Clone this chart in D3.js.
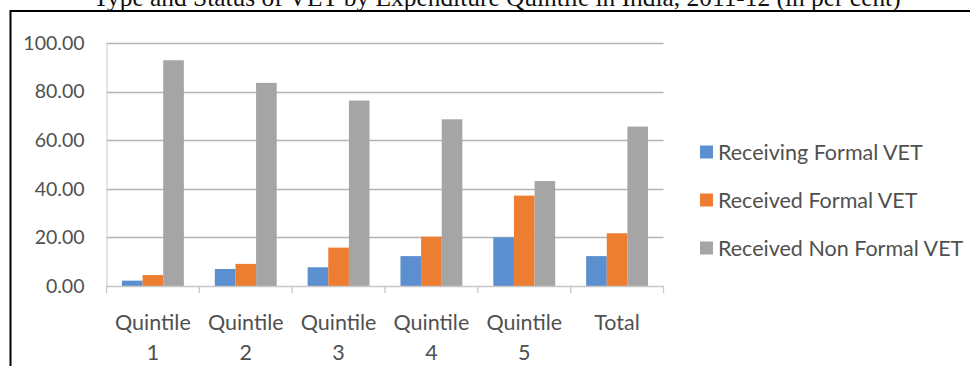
<!DOCTYPE html>
<html>
<head>
<meta charset="utf-8">
<script src="https://cdn.jsdelivr.net/npm/d3@7"></script>
<style>
  html, body { margin: 0; padding: 0; background: #ffffff; }
  svg { display: block; }
</style>
</head>
<body>
<svg id="chart" width="970" height="366"></svg>
<script>
// Type and status of VET by expenditure quintile, India 2011-12 (per cent)
const categories = [["Quintile", "1"], ["Quintile", "2"], ["Quintile", "3"], ["Quintile", "4"], ["Quintile", "5"], ["Total"]];
const seriesNames = ["Receiving Formal VET", "Received Formal VET", "Received Non Formal VET"];
const receivingFormal = [2.2, 7.0, 7.7, 12.3, 20.0, 12.3];
const receivedFormal = [4.5, 9.1, 15.8, 20.3, 37.2, 21.7];
const receivedNonFormal = [92.9, 83.6, 76.3, 68.6, 43.2, 65.6];
const yTicks = [0, 20, 40, 60, 80, 100];
const colors = ["#5b8fcf", "#ed7d31", "#a5a5a5"];
const titleText = "Type and Status of VET by Expenditure Quintile in India, 2011-12 (in per cent)";

const series = [receivingFormal, receivedFormal, receivedNonFormal];
const svg = d3.select("#chart");
const font = "Lato, 'Open Sans', sans-serif";
const textColor = "#505050";

// Title line running off the top edge
svg.append("text")
  .attr("x", 497).attr("y", 5.5)
  .attr("text-anchor", "middle")
  .attr("font-family", "'Liberation Serif', 'Times New Roman', serif")
  .attr("font-size", 25.4)
  .attr("fill", "#111")
  .text(titleText);

// Frame around the chart
svg.append("line").attr("x1", 10.5).attr("x2", 970).attr("y1", 11).attr("y2", 11)
  .attr("stroke", "#000").attr("stroke-width", 2);
svg.append("line").attr("x1", 10.5).attr("x2", 10.5).attr("y1", 10).attr("y2", 366)
  .attr("stroke", "#000").attr("stroke-width", 2);

const plot = { left: 106.5, right: 663.5, top: 43, bottom: 286 };

const y = d3.scaleLinear().domain([0, 100]).range([plot.bottom, plot.top]);
const x0 = d3.scaleBand().domain(d3.range(categories.length)).range([plot.left, plot.right]).paddingInner(0).paddingOuter(0);
const groupW = x0.bandwidth() * 3 / 4.5;
const x1 = d3.scaleBand().domain(d3.range(series.length)).range([0, groupW]).padding(0);

// Gridlines
svg.append("g").selectAll("line").data(yTicks.filter(t => t > 0)).join("line")
  .attr("x1", plot.left).attr("x2", plot.right)
  .attr("y1", d => Math.round(y(d)) + 0.5).attr("y2", d => Math.round(y(d)) + 0.5)
  .attr("stroke", "#b4b4b4").attr("stroke-width", 1.3);

// Y axis
const yAxis = svg.append("g").attr("transform", `translate(${plot.left},0)`)
  .call(d3.axisLeft(y).tickValues(yTicks).tickSize(0).tickPadding(22).tickFormat(d3.format(".2f")));
yAxis.select(".domain").attr("stroke", "#d0d0d0").attr("stroke-width", 1.2);
yAxis.selectAll("text").attr("font-family", font).attr("font-size", 19.5).attr("fill", textColor);

// Bars
const groups = svg.append("g").selectAll("g").data(categories.map((c, i) => i)).join("g")
  .attr("transform", i => `translate(${x0(i) + (x0.bandwidth() - groupW) / 2},0)`);
groups.selectAll("rect").data(i => series.map((s, k) => ({ k, v: s[i] }))).join("rect")
  .attr("x", d => x1(d.k))
  .attr("width", x1.bandwidth())
  .attr("y", d => y(d.v))
  .attr("height", d => y(0) - y(d.v))
  .attr("fill", d => colors[d.k]);

// X axis with category boundary ticks
const xAxisG = svg.append("g");
xAxisG.append("line").attr("x1", plot.left).attr("x2", plot.right)
  .attr("y1", plot.bottom + 0.5).attr("y2", plot.bottom + 0.5)
  .attr("stroke", "#c8c8c8").attr("stroke-width", 1.3);
xAxisG.selectAll("line.tick").data(d3.range(categories.length + 1)).join("line")
  .attr("class", "tick")
  .attr("x1", i => i < categories.length ? x0(i) : plot.right)
  .attr("x2", i => i < categories.length ? x0(i) : plot.right)
  .attr("y1", plot.bottom).attr("y2", plot.bottom + 7)
  .attr("stroke", "#c8c8c8").attr("stroke-width", 1.3);

const labels = svg.append("g").selectAll("text").data(categories).join("text")
  .attr("x", (c, i) => x0(i) + x0.bandwidth() / 2)
  .attr("y", 330)
  .attr("text-anchor", "middle")
  .attr("font-family", font).attr("font-size", 21.5).attr("fill", textColor);
labels.selectAll("tspan").data(c => c).join("tspan")
  .attr("x", function () { return d3.select(this.parentNode).attr("x"); })
  .attr("dy", (d, j) => j === 0 ? 0 : 30)
  .text(d => d);

// Legend
const legend = svg.append("g").selectAll("g").data(seriesNames).join("g")
  .attr("transform", (d, i) => `translate(700,${152 + i * 48})`);
legend.append("rect").attr("x", 0).attr("y", -6.5).attr("width", 13).attr("height", 13)
  .attr("fill", (d, i) => colors[i]);
legend.append("text").attr("x", 18).attr("y", 7.5)
  .attr("font-family", font).attr("font-size", 21.5).attr("fill", textColor)
  .text(d => d);
</script>
</body>
</html>
